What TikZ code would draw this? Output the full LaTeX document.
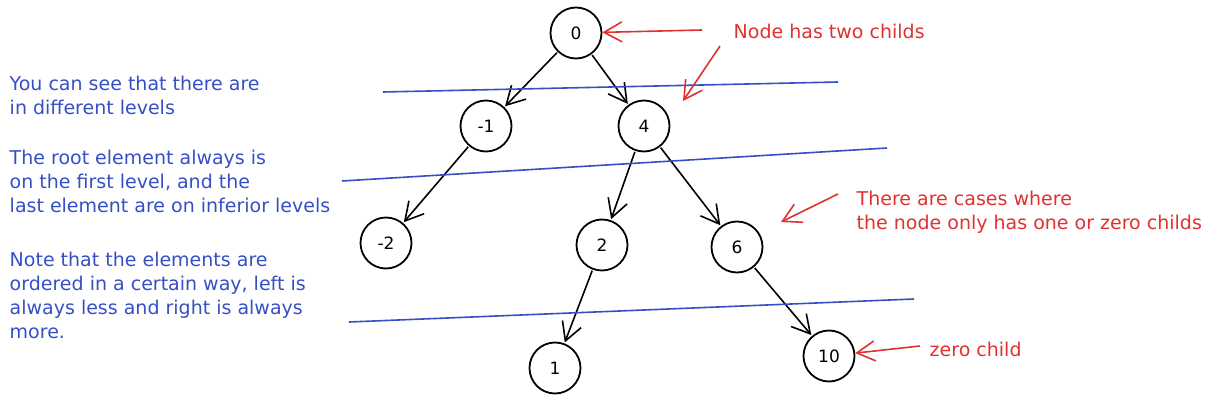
\documentclass[tikz,border=0pt]{standalone}
\usepackage{fontspec}
\setmainfont{DejaVu Sans}
\usetikzlibrary{arrows.meta}

\definecolor{notered}{RGB}{224,49,49}
\definecolor{noteblue}{RGB}{54,79,199}

\begin{document}
\begin{tikzpicture}[x=1pt,y=-1pt,thick,
        >={Straight Barb[length=18pt,width=20pt]},
        tree node/.style={circle,draw,line width=1.8pt,minimum size=51pt,inner sep=0pt,font=\fontsize{17}{17}\selectfont},
        tree edge/.style={->,line width=1.6pt,shorten >=1pt,shorten <=1pt},
        level line/.style={noteblue,line width=1.6pt},
        note arrow/.style={->,notered,line width=1.6pt},
        red note/.style={notered,anchor=west,align=left,font=\fontsize{19}{24}\selectfont},
        blue note/.style={noteblue,anchor=north west,align=left,font=\fontsize{19}{24}\selectfont}]

        \useasboundingbox (0,0) rectangle (1229,401);

        % tree
        \node[tree node] (0) at (576,33) {0};
        \node[tree node] (m1) at (486,126) {-1};
        \node[tree node] (4) at (644,126) {4};
        \node[tree node] (m2) at (386,243) {-2};
        \node[tree node] (2) at (602,245) {2};
        \node[tree node] (6) at (737,247) {6};
        \node[tree node] (1) at (555,368) {1};
        \node[tree node] (10) at (829,356) {10};

        \path[tree edge]
        (0) edge (m1)
        (0) edge (4)
        (m1) edge (m2)
        (4) edge (2)
        (4) edge (6)
        (2) edge (1)
        (6) edge (10);

        % levels
        \coordinate (l1a) at (383,92);
        \coordinate (l1b) at (838,82);
        \coordinate (l2a) at (342,181);
        \coordinate (l2b) at (887,148);
        \coordinate (l3a) at (349,322);
        \coordinate (l3b) at (914,299);
        \draw[level line] (l1a) -- (l1b);
        \draw[level line] (l2a) -- (l2b);
        \draw[level line] (l3a) -- (l3b);

        % notes
        \node[red note] (two) at (730,31) {Node has two childs};
        \node[red note] (cases) at (853,212) {There are cases where\\the node only has one or zero childs};
        \node[red note] (zero) at (926,349) {zero child};

        \coordinate (a1) at (702,30);
        \coordinate (a2) at (720,46);
        \coordinate (a3) at (838,194);
        \coordinate (a4) at (920,346);
        \draw[note arrow] (a1) -- (0);
        \draw[note arrow] (a2) -- (683,101);
        \draw[note arrow] (a3) -- (781,222);
        \draw[note arrow] (a4) -- (10);

        \node[blue note] (levels) at (6,72) {You can see that there are\\in different levels};
        \node[blue note] (root) at (6,146) {The root element always is\\on the first level, and the\\last element are on inferior levels};
        \node[blue note] (order) at (6,248) {Note that the elements are\\ordered in a certain way, left is\\always less and right is always\\more.};
      \end{tikzpicture}
\end{document}
